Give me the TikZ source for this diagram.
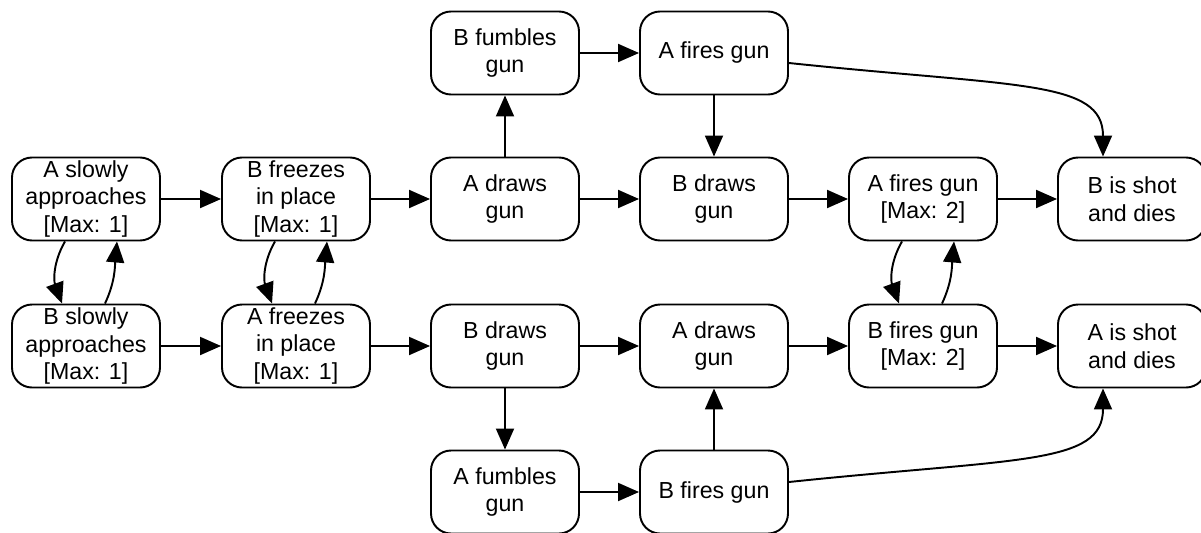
\documentclass[tikz,border=0pt]{standalone}
\usepackage{fontspec}
\setmainfont{Liberation Sans}
\usetikzlibrary{arrows.meta}

\begin{document}
\begin{tikzpicture}[
        event/.style={draw, line width=1.1pt, rounded corners=0.4cm, align=center,
                minimum width=2.96cm, minimum height=1.66cm, inner sep=0pt,
                font=\fontsize{13.2}{15.6}\selectfont},
        flow/.style={line width=1.1pt, -{Triangle[length=0.42cm,width=0.36cm]}}]
                \useasboundingbox (0,0) rectangle (24.02,10.64);
                % top row
                \node[event] (bfumble) at (10.10,9.58) {B fumbles\\gun};
                \node[event] (afiretop) at (14.28,9.58) {A fires gun};
                % A moves first
                \node[event] (aslow) at (1.72,6.66) {A slowly\\approaches\\{[Max: 1]}};
                \node[event] (bfreeze) at (5.92,6.66) {B freezes\\in place\\{[Max: 1]}};
                \node[event] (adraw) at (10.10,6.66) {A draws\\gun};
                \node[event] (bdraw) at (14.28,6.66) {B draws\\gun};
                \node[event] (afire) at (18.46,6.66) {A fires gun\\{[Max: 2]}};
                \node[event] (bdies) at (22.64,6.66) {B is shot\\and dies};
                % B moves first
                \node[event] (bslow) at (1.72,3.72) {B slowly\\approaches\\{[Max: 1]}};
                \node[event] (afreeze) at (5.92,3.72) {A freezes\\in place\\{[Max: 1]}};
                \node[event] (bdrawlow) at (10.10,3.72) {B draws\\gun};
                \node[event] (adrawlow) at (14.28,3.72) {A draws\\gun};
                \node[event] (bfire) at (18.46,3.72) {B fires gun\\{[Max: 2]}};
                \node[event] (adies) at (22.64,3.72) {A is shot\\and dies};
                % bottom row
                \node[event] (afumble) at (10.10,0.80) {A fumbles\\gun};
                \node[event] (bfirelow) at (14.28,0.80) {B fires gun};

                \draw[flow] (aslow) -- (bfreeze);
                \draw[flow] (bfreeze) -- (adraw);
                \draw[flow] (adraw) -- (bdraw);
                \draw[flow] (bdraw) -- (afire);
                \draw[flow] (afire) -- (bdies);
                \draw[flow] (bslow) -- (afreeze);
                \draw[flow] (afreeze) -- (bdrawlow);
                \draw[flow] (bdrawlow) -- (adrawlow);
                \draw[flow] (adrawlow) -- (bfire);
                \draw[flow] (bfire) -- (adies);
                \draw[flow] (bfumble) -- (afiretop);
                \draw[flow] (afumble) -- (bfirelow);
                \draw[flow] (adraw) -- (bfumble);
                \draw[flow] (afiretop) -- (bdraw);
                \draw[flow] (bdrawlow) -- (afumble);
                \draw[flow] (bfirelow) -- (adrawlow);
                % swaps between the two rows
                \foreach \up/\down in {aslow/bslow, bfreeze/afreeze, afire/bfire} {
                        \draw[flow] ([xshift=-0.42cm]\up.south) to[out=-120,in=110] ([xshift=-0.48cm]\down.north);
                        \draw[flow] ([xshift=0.38cm]\down.north) to[out=65,in=-95] ([xshift=0.62cm]\up.south);
                }
                % shots
                \draw[flow] ([yshift=-0.2cm]afiretop.east) to[out=-6,in=90,out looseness=1.8,in looseness=0.6] ([xshift=-0.58cm]bdies.north);
                \draw[flow] ([yshift=0.2cm]bfirelow.east) to[out=6,in=-90,out looseness=1.8,in looseness=0.6] ([xshift=-0.58cm]adies.south);
\end{tikzpicture}
\end{document}
